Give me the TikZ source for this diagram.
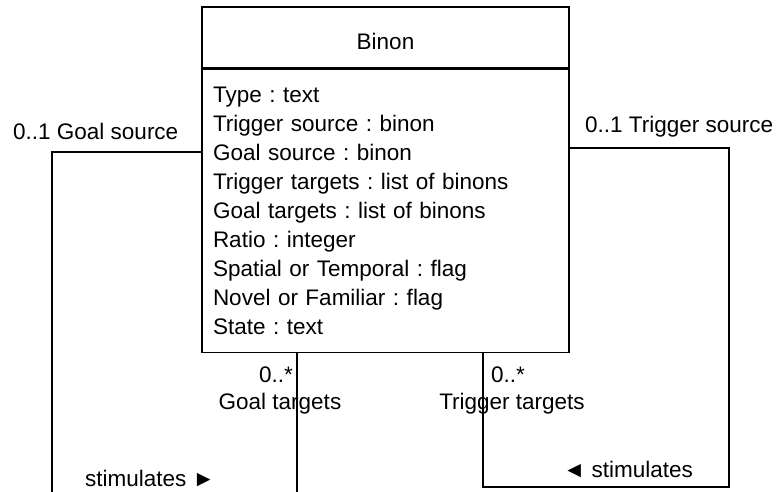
\documentclass[tikz,border=0pt]{standalone}
\usepackage{fontspec}
\setmainfont{Liberation Sans}
\usepackage{tikz}

\tikzset{
  umltext/.style={font=\fontsize{22.5}{29}\selectfont\frenchspacing, inner sep=0pt},
  classbox/.style={draw, line width=1.5pt, minimum width=367pt, umltext},
  assoc/.style={line width=1.5pt},
}

\begin{document}
\begin{tikzpicture}[x=1pt, y=-1pt]
            \useasboundingbox (0,0) rectangle (780,492);

            \node[classbox, minimum height=61pt, text height=24pt] (binon) at (385.5,37.5) {Binon};
            \node[classbox, anchor=north, minimum height=283pt, text width=345pt,
                  align=left, inner xsep=11pt] (attrs) at (binon.south)
                 {Type : text\\
                  Trigger source : binon\\
                  Goal source : binon\\
                  Trigger targets : list of binons\\
                  Goal targets : list of binons\\
                  Ratio : integer\\
                  Spatial or Temporal : flag\\
                  Novel or Familiar : flag\\
                  State : text};

            \coordinate (gsbend) at (52,152);
            \coordinate (gsend)  at (52,492);
            \coordinate (gtend)  at (297,492);
            \coordinate (tsbend) at (729,148);
            \coordinate (tsdown) at (729,487);
            \coordinate (ttleft) at (483,487);

            % goal source loop
            \draw[assoc] (attrs.west |- gsbend) -- (gsbend) -- (gsend);
            % goal targets
            \draw[assoc] (attrs.south -| gtend) -- (gtend);
            % trigger loop
            \draw[assoc] (attrs.east |- tsbend) -- (tsbend) -- (tsdown)
                         -- (ttleft) -- (attrs.south -| ttleft);

            \node[umltext, anchor=west] (gslabel) at (13,131) {0..1 Goal source};
            \node[umltext, anchor=west] (tslabel) at (585,127) {0..1 Trigger source};
            \node[umltext, anchor=east] (gtmult)  at (293,375) {0..*};
            \node[umltext]              (gtlabel) at (280,404) {Goal targets};
            \node[umltext, anchor=west] (ttmult)  at (491,375) {0..*};
            \node[umltext]              (ttlabel) at (512,404) {Trigger targets};
            \node[umltext, anchor=west] (gstim)   at (85,478) {stimulates ►};
            \node[umltext, anchor=west] (tstim)   at (563,469) {◄ stimulates};
        \end{tikzpicture}
\end{document}
